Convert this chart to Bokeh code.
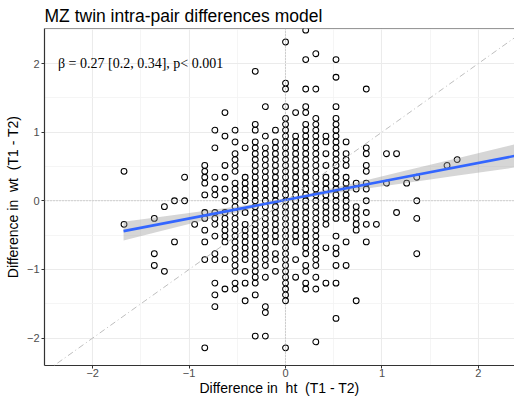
from bokeh.plotting import figure
from bokeh.models import Range1d, FixedTicker, Span, Slope, Label
from bokeh.embed import file_html
from bokeh.resources import INLINE

# ---- data (grid units: columns of ht diff, rows of wt diff)
x_step = 0.1047
y_step = 0.0857
col_idx = [-16, -13, -12, -11, -10, -9, -8, -7, -6, -5, -4, -3, -2, -1, 0,
           1, 2, 3, 4, 5, 6, 7, 8, 9, 10, 11, 12, 13, 16, 17]
col_rows = [
    "5,-4",
    "-3,-9,-11",
    "-1,-12",
    "0,-7",
    "4,0",
    "-4",
    "6,5,4,3,1,-2,-3,-5,-7,-10,-25",
    "12,9,4,2,1,-2,-3,-4,-6,-9,-10,-14,-16,-18",
    "15,11,6,4,2,0,-2:-7,-10,-15",
    "12,10,8:5,3:-12,-14,-15",
    "9,4:0,-2,-4:-10,-12,-14,-17",
    "22,13,12,10:-14,-16,-23",
    "16,11,9:-11,-13,-18,-19,-23",
    "12,10:-7,-9,-10,-12",
    "27,20,19,16,14:-17,-25",
    "15,11:-7,-10,-13",
    "29,24,19,16,15,13:-9,-11,-12,-14,-15",
    "25,19,14:-11,-13,-15,-24",
    "11,10,8,6,4:-4,-8,-14",
    "24,21,16,14:-3,-6,-8,-9,-11,-14,-20",
    "10,8,7,6,4:-3,-7,-11",
    "3,2,-1:-5,-17",
    "19,9,8,6,5,3,2,0,-2,-4,-7",
    "-4",
    "8,3",
    "8,-2",
    "3",
    "4,0,-3,-9",
    "6",
    "7",
]

# regression line and its confidence band
fit_x = [-1.68, 2.46]
fit_y = [-0.442, 0.676]
band_x = [-1.68, -1.25, -0.75, -0.25, 0.25, 0.75, 1.25, 1.75, 2.46]
band_lo = [-0.577, -0.426, -0.251, -0.081, 0.055, 0.160, 0.260, 0.360, 0.501]
band_hi = [-0.307, -0.226, -0.131, -0.031, 0.105, 0.270, 0.440, 0.610, 0.851]

x_ticks = [-2, -1, 0, 1, 2]
y_ticks = [-2, -1, 0, 1, 2]
annot = "\u03b2 = 0.27 [0.2, 0.34], p< 0.001"
x_title = "Difference in\u00a0 ht\u00a0 (T1 - T2)"
y_title = "Difference in\u00a0 wt\u00a0 (T1 - T2)"


def expand(s):
    out = []
    for part in s.split(","):
        if ":" in part:
            a, b = (int(v) for v in part.split(":"))
            st = -1 if b < a else 1
            out.extend(range(a, b + st, st))
        else:
            out.append(int(part))
    return out


pts_x, pts_y = [], []
for c, rs in zip(col_idx, col_rows):
    for r in expand(rs):
        pts_x.append(c * x_step)
        pts_y.append(r * y_step)

Y0, Y1 = -2.40, 2.51
p = figure(width=514, height=398, output_backend="svg", toolbar_location=None,
           x_range=Range1d(-2.50, 2.375), y_range=Range1d(Y0, Y1),
           min_border_left=44, min_border_right=0, min_border_top=28,
           min_border_bottom=33)
p.background_fill_color = "white"
p.border_fill_color = "white"
p.outline_line_color = None

p.title.text = "MZ twin intra-pair differences model"
p.title.text_font = "Liberation Sans"
p.title.text_font_size = "17.5px"
p.title.text_font_style = "normal"
p.title.text_color = "black"
p.title.align = "left"
p.title.standoff = 6
p.title.offset = 0

for ax, ticks in ((p.xaxis[0], x_ticks), (p.yaxis[0], y_ticks)):
    ax.ticker = FixedTicker(ticks=ticks,
                            minor_ticks=[t + 0.5 for t in [-3] + ticks])
    ax.axis_line_color = "#333333"
    ax.axis_line_width = 1.2
    ax.major_tick_line_color = "#333333"
    ax.major_tick_out = 3
    ax.major_tick_in = 0
    ax.minor_tick_out = 0
    ax.minor_tick_in = 0
    ax.major_label_text_font = "Liberation Sans"
    ax.major_label_text_font_size = "11px"
    ax.major_label_text_color = "#4D4D4D"
    ax.axis_label_text_font = "Liberation Sans"
    ax.axis_label_text_font_size = "14px"
    ax.axis_label_text_font_style = "normal"
    ax.axis_label_text_color = "black"

p.xaxis.major_label_standoff = 0
p.xaxis.axis_label_standoff = 0
p.yaxis.major_label_standoff = 2
p.yaxis.axis_label_standoff = 3
p.xaxis.axis_label = x_title
p.yaxis.axis_label = y_title

for g in (p.xgrid[0], p.ygrid[0]):
    g.grid_line_color = "#EBEBEB"
    g.grid_line_width = 1.1
    g.minor_grid_line_color = "#F2F2F2"
    g.minor_grid_line_width = 0.8

# top border of the panel
p.add_layout(Span(location=Y1, dimension="width", line_color="#333333",
                  line_width=1.2))

# reference lines
p.add_layout(Span(location=0, dimension="height", line_color="#B0B0B0",
                  line_dash="1 2", line_width=1))
p.add_layout(Span(location=0, dimension="width", line_color="#B0B0B0",
                  line_dash="1 2", line_width=1))
p.add_layout(Slope(gradient=1, y_intercept=0, line_color="#BEBEBE",
                   line_dash="1 3 6 3", line_width=1))

p.scatter(pts_x, pts_y, marker="circle", size=5.8, fill_color=None,
          line_color="black", line_width=1.05)

p.varea(x=band_x, y1=band_lo, y2=band_hi, fill_color="#999999", fill_alpha=0.4)
p.line(fit_x, fit_y, line_color="#3366FF", line_width=2.6)

p.add_layout(Label(x=-2.36, y=2.0, text=annot, text_font="Liberation Serif",
                   text_font_size="14px", text_baseline="middle",
                   text_align="left", text_color="black"))

open("out.html", "w").write(file_html(p, INLINE))
